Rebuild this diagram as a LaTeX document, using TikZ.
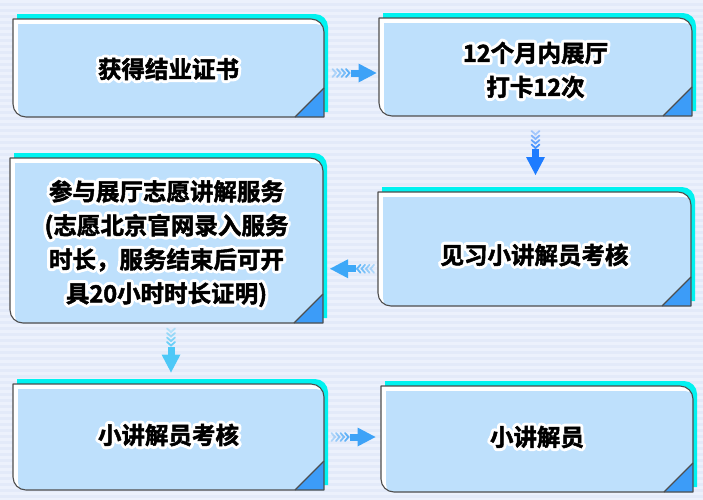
\documentclass[tikz,border=0pt]{standalone}
\usepackage{fontspec}
\newfontfamily\cjk{Noto Sans CJK SC Bold}[FakeBold=2]
\newfontfamily\cjkhalo{Noto Sans CJK SC Bold}[FakeBold=28]
\usetikzlibrary{calc}
\definecolor{bgA}{HTML}{E3EAF9}
\definecolor{bgB}{HTML}{ECF1FC}
\definecolor{shadowcyan}{HTML}{00F2F0}
\definecolor{boxblue}{HTML}{BEE0FC}
\definecolor{tri}{HTML}{3C9CF8}
\definecolor{edge}{HTML}{4E4E4E}
\definecolor{arrA}{HTML}{3DA2F7}
\definecolor{arrB}{HTML}{1E7CFF}
\definecolor{arrC}{HTML}{3DA8F8}
\definecolor{arrD}{HTML}{4DC8F7}
\tikzset{
  outline/.style={draw=edge, line width=1.1pt, line join=round},
  textnode/.style={inner sep=0pt, align=center, font=\cjk\fontsize{23.5}{34}\selectfont, text=black},
  halonode/.style={inner sep=0pt, align=center, font=\cjkhalo\fontsize{23.5}{34}\selectfont, text=white, line join=round, line cap=round},
}
\newcommand\panel[7]{% #1 name, #2 l, #3 t, #4 r, #5 b, #6 text, #7 text yshift
  \fill[shadowcyan] ({#2+4},{#3-5}) -- ({#4+4-13},{#3-5}) .. controls ({#4+4-5.8},{#3-5}) and ({#4+4},{#3-5+5.8}) .. ({#4+4},{#3-5+13}) -- ({#4+4},{#5-5}) -- ({#2+4},{#5-5}) -- cycle;
  \begin{scope}
    \clip (#2,#3) -- ({#4-13},#3) .. controls ({#4-5.8},#3) and (#4,{#3+5.8}) .. (#4,{#3+13}) -- (#4,#5) -- ({#2+13},#5) .. controls ({#2+5.8},#5) and (#2,{#5-5.8}) .. (#2,{#5-13}) -- cycle;
    \fill[white] (#2,#3) rectangle (#4,#5);
    \fill[boxblue] ({#2+5},{#3+5}) -- ({#4-13+5},{#3+5}) .. controls ({#4-5.8+5},{#3+5}) and ({#4+5},{#3+5.8+5}) .. ({#4+5},{#3+13+5}) -- ({#4+5},{#5+5}) -- ({#2+13+5},{#5+5}) .. controls ({#2+5.8+5},{#5+5}) and ({#2+5},{#5-5.8+5}) .. ({#2+5},{#5-13+5}) -- cycle;
    \fill[tri] (#4,{#5-29}) -- (#4,#5) -- ({#4-29},#5) -- cycle;
  \end{scope}
  \draw[outline] ({#4-29},#5) -- (#4,{#5-29});
  \draw[outline] (#2,#3) -- ({#4-13},#3) .. controls ({#4-5.8},#3) and (#4,{#3+5.8}) .. (#4,{#3+13}) -- (#4,#5) -- ({#2+13},#5) .. controls ({#2+5.8},#5) and (#2,{#5-5.8}) .. (#2,{#5-13}) -- cycle;
  \begin{scope}[line join=round, line cap=round]
    \node[halonode] (#1h) at ({(#2+#4)/2},{(#3+#5)/2+#7}) {#6};
  \end{scope}
  \node[textnode, minimum width={#4-#2}, minimum height={#5-#3}] (#1) at ({(#2+#4)/2},{(#3+#5)/2+#7}) {#6};
}
\newcommand\arrowglyph[1]{%
  \foreach \i/\o in {0/0.35,1/0.5,2/0.65,3/0.8}
    \draw[#1, line width=1.8pt, opacity=\o, line cap=round, line join=miter] ({-22+4.5*\i},-4) -- ({-18.5+4.5*\i},0) -- ({-22+4.5*\i},4);
  \fill[#1] (-4,-3.5) rectangle (4.5,3.5);
  \fill[#1] (4,-9.5) -- (22,0) -- (4,9.5) -- cycle;
}
\begin{document}
\begin{tikzpicture}[x=1pt,y=-1pt]
\useasboundingbox (0,0) rectangle (703,499);
\fill[bgA] (0,0) rectangle (703,499);
\foreach \y in {0,6,...,498} \fill[bgB] (0,\y) rectangle (703,\y+2.5);

\panel{b1}{13}{19}{324}{117}{获得结业证书}{1}
\panel{b2}{379}{18}{692}{116}{12个月内展厅\\打卡12次}{3}
\panel{b3}{10}{158}{323}{323}{参与展厅志愿讲解服务\\(志愿北京官网录入服务\\时长，服务结束后可开\\具20小时时长证明)}{3}
\panel{b4}{378}{192}{691}{306}{见习小讲解员考核}{6}
\panel{b5}{13}{384}{324}{490}{小讲解员考核}{-2}
\panel{b6}{381}{386}{693}{492}{小讲解员}{-2}

\begin{scope}[shift={($(b1.east)!0.5!(b2.west)+(3,3.5)$)}]
  \arrowglyph{arrA}
\end{scope}
\begin{scope}[shift={($(b2.south)!0.5!(b4.north)+(0.5,-5.5)$)}, rotate=-90]
  \arrowglyph{arrB}
\end{scope}
\begin{scope}[shift={($(b4.west)!0.5!(b3.east)+(1.5,19.5)$)}, rotate=180]
  \arrowglyph{arrC}
\end{scope}
\begin{scope}[shift={($(b3.south)!0.5!(b5.north)+(3.5,-3.5)$)}, rotate=-90]
  \arrowglyph{arrD}
\end{scope}
\begin{scope}[shift={($(b5.east)!0.5!(b6.west)+(1,1)$)}]
  \arrowglyph{arrA}
\end{scope}
\end{tikzpicture}
\end{document}
